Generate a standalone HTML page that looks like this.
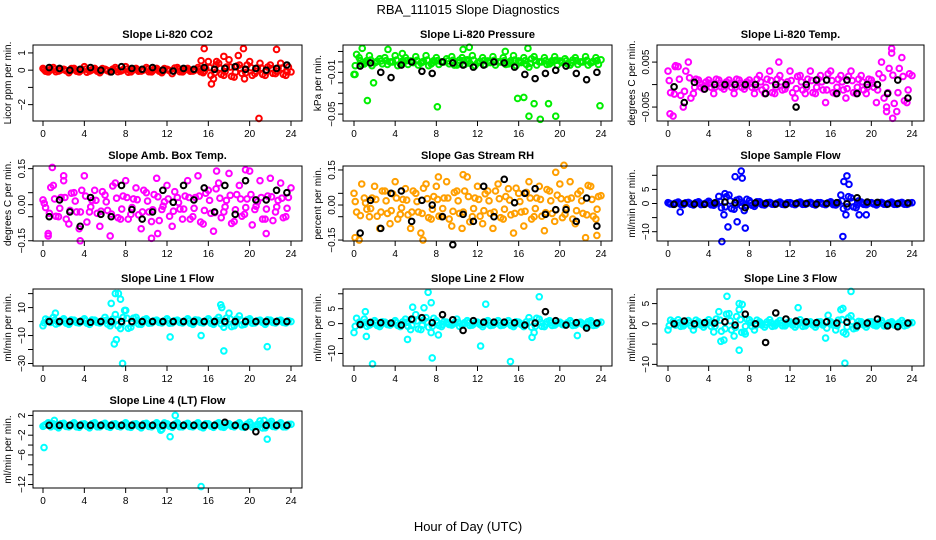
<!DOCTYPE html>
<html><head><meta charset="utf-8"><style>
html,body{margin:0;padding:0;background:#fff;}
svg{display:block;font-family:"Liberation Sans",sans-serif;}
</style></head><body>
<svg id="chart" width="936" height="540" viewBox="0 0 936 540" xmlns="http://www.w3.org/2000/svg">
<text x="468" y="14" text-anchor="middle" font-size="13">RBA_111015  Slope Diagnostics</text>
<text x="468" y="531" text-anchor="middle" font-size="13">Hour of Day (UTC)</text>
</svg>
<script>
const hourTicks = [0,4,8,12,16,20,24];
const co2Vals = [0.1,-0.1,0.15,-0.05,0.05,-0.15,0.1,-0.1,0.2,-0.05,0.1,-0.15,0.05,-0.1,0.15,-0.05,0.2,-0.1,0.1,-0.05,0.15,-0.1,0.1,-0.15,0.05,-0.2,0.15,-0.1,0.1,-0.05,0.15,-0.15,0.5,-0.5,0.4,-0.3,0.6,-0.4,0.3,-0.5,0.5,-0.2,0.4,-0.3,0.3,-0.2,0.4,-0.3,-0.1];
const co2Out = [[15.6,1.25],[19.4,1.25],[22.6,1.2],[20.9,-2.8],[16.3,-0.8],[18.9,0.85],[17.5,0.8],[16.8,0.5],[15.3,0.55]];
const co2Black = [0.15,0.1,0,0.05,0.15,0,-0.1,0.2,0.1,0.05,0.15,0,-0.05,0.1,0.05,0.15,0.05,0.1,0.2,0.05,0.1,0,0.1,0.3];
const presVals = [-0.012,0.004,-0.002,0.006,-0.001,0.003,0.004,0,0.006,-0.002,0.004,0.001,0.005,-0.001,0.006,-0.002,0.004,0,0.003,0.005,-0.003,0.004,0.002,0.006,-0.001,0.004,0.001,0.005,0,0.004,-0.002,0.006,0.001,0.004,-0.005,0.005,0,0.004,-0.002,0.005,0.001,0.003,-0.003,0.004,0,0.005,-0.001,0.004,0.002];
const presOut = [[0.1,-0.012],[1.3,-0.037],[1.9,-0.02],[8.1,-0.043],[15.9,-0.035],[16.5,-0.034],[17,-0.052],[17.5,-0.04],[18.1,-0.055],[18.9,-0.04],[19.6,-0.052],[23.9,-0.042],[0.8,0.013],[11.2,0.014],[10.6,0.012],[16.9,0.013],[14.7,0.01],[4.7,0.008],[3.3,0.012]];
const presBlack = [-0.004,-0.001,-0.01,-0.015,-0.003,0,-0.009,-0.011,0,-0.001,-0.003,-0.005,-0.003,0,-0.001,-0.005,-0.012,-0.016,-0.011,-0.008,-0.004,-0.011,-0.017,-0.01];
const tempVals = [0.003,-0.007,0.004,-0.005,0.005,-0.002,0.001,-0.001,0.001,-0.002,0.001,-0.001,0.001,-0.002,0.001,-0.001,0.001,-0.002,0.002,-0.002,0.003,-0.002,0.002,-0.001,0.003,-0.003,0.002,-0.002,0.003,-0.002,0.002,-0.004,0.003,-0.002,0.002,-0.003,0.003,-0.002,0.002,-0.002,0.001,-0.004,0.005,-0.006,0.007,-0.006,0.006,-0.004,0.002];
const tempOut = [[22,0.008],[22.1,-0.0075],[0.2,-0.0065],[10.9,0.005],[0.7,0.004],[21.5,-0.005]];
const tempBlack = [-0.0005,-0.004,0.0005,-0.001,0,0,0,0,0,-0.002,0,0,-0.005,0,0.001,0.001,-0.002,0.001,-0.002,0,0,-0.002,0.001,-0.003];
const ambVals = [0.02,-0.12,0.08,-0.05,0.1,-0.08,0.05,-0.1,0.12,-0.03,0.06,-0.09,0.04,-0.13,0.09,-0.06,0.1,-0.04,0.07,-0.1,0.05,-0.07,0.11,-0.02,0.08,-0.09,0.03,-0.06,0.1,-0.05,0.12,-0.08,0.06,-0.11,0.09,-0.03,0.13,-0.07,0.08,-0.04,0.14,-0.02,0.1,-0.06,0.11,-0.03,0.09,-0.05,0.07];
const ambOut = [[0.9,0.155],[3.6,-0.15],[0.5,-0.13],[10.5,-0.14],[16.8,0.14],[19.6,0.145],[21.6,-0.12],[11.1,-0.12],[2,0.12]];
const ambBlack = [-0.05,0.02,-0.03,-0.09,0.03,-0.04,-0.05,0.08,-0.02,-0.06,-0.03,0.06,0.01,0.08,0.02,0.07,-0.03,0.08,-0.04,0.1,0.02,0.02,0.06,0.05];
const rhVals = [0.05,-0.15,0.03,-0.05,0.08,-0.1,0.06,-0.08,0.1,-0.04,0.07,-0.1,0.05,-0.12,0.09,-0.06,0.08,-0.05,0.1,-0.09,0.06,-0.1,0.12,-0.05,0.08,-0.08,0.06,-0.1,0.09,-0.06,0.07,-0.12,0.05,-0.09,0.1,-0.05,0.08,-0.11,0.06,-0.07,0.09,-0.04,0.1,-0.08,0.06,-0.14,0.08,-0.06,0.04];
const rhOut = [[20.4,0.17],[6.7,-0.15],[10.6,0.13],[8.2,0.12],[23.6,-0.13],[0.1,-0.14],[19.6,0.14]];
const rhBlack = [-0.12,0.02,-0.1,0.05,0.06,-0.07,0.02,0,-0.05,-0.17,-0.04,-0.07,0.08,-0.05,0.11,0.01,0.05,0.07,-0.04,-0.02,-0.02,-0.07,0.03,-0.09];
const sfVals = [0.3,-0.3,0.5,-0.4,0.4,-0.5,0.6,-0.3,0.8,-0.6,2.5,-4,3,-2,1.5,-2.5,1,-1,0.6,-0.5,0.4,-0.3,0.5,-0.4,0.3,-0.4,0.5,-0.3,0.4,-0.5,0.3,-0.4,0.6,-0.5,3,-4,2,-1.5,0.5,-0.4,0.3,-0.5,0.4,-0.3,0.5,-0.3,0.4,-0.3,0.3];
const sfOut = [[5.3,-13.5],[6.6,9.5],[7.2,11.5],[7.6,-8.7],[5.9,-8.3],[6.8,-6.5],[17.6,9.8],[17.3,7.8],[17.2,-11.7],[17.8,6.8],[1.2,-3],[18.8,-4],[19.5,-4],[5.6,3.5],[7.3,9]];
const sfBlack = [-0.3,0,-0.2,-0.3,0.2,0.5,0.3,-1.5,0.2,0,-0.2,-0.3,0,0,-0.2,0,0.3,-0.1,2,0.5,0.4,-0.2,0,0.2];
const l1Vals = [-3,1,3,-1,2,-2,1,-1,2,-2,1,-1,3,-3,5,-5,8,-4,3,-2,2,-1,1,-1,2,-1,1,-1,2,-2,1,-1,2,-2,3,-4,6,-3,4,-2,2,-1,1,-2,1,-1,1,-1,0];
const l1Out = [[7,20],[7.3,20],[6.6,13],[7.5,16],[6.9,-16],[7.1,-13],[7.7,-30],[12.3,-11],[15.3,-10],[17.3,10],[17.5,-21],[21.7,-18],[17.2,12],[1.2,6],[7.9,8]];
const l1Black = [0,0,0,0,-0.5,0,0,0,0,0,0,0,0,0,0,0,0,0,0,0,0,0,0,0];
const l2Vals = [-3,0.5,1.5,-0.5,1,-1,0.5,-0.5,1,-1,1.5,-2,3,-2,2,-3,1,-1,0.5,-0.5,1.5,-0.5,1,-0.5,0.5,-1,1,-0.5,1,-0.5,1,-1,0.5,-1,2,-3,1.5,-1,1,-0.5,0.5,-0.5,1,-0.5,0.5,-1,1,-0.5,0.5];
const l2Out = [[1.8,-13.5],[7.2,10.5],[7.5,7],[5.7,5.5],[6.8,5.3],[12.8,6.5],[12.3,-7.5],[15.2,-12.7],[18,9],[7.6,-11.5],[1.1,4],[1.2,-4.3],[5.2,-5.3],[17.3,-4.6],[21.7,-4],[8.2,-3.8]];
const l2Black = [-0.3,0.4,0.3,0.2,-0.5,1.5,2,0.3,3,1.3,-2.3,1,0.5,0.5,0.5,0.3,-0.5,0.2,4,1,-0.5,0.3,-1.5,0.2];
const l3Vals = [-1.5,0.5,1,-0.5,0.8,-1.5,0.5,-0.8,1,-2,3,-4,2.5,-3,3.5,-2,1,-1.5,0.5,-0.8,1,-0.5,0.8,-0.5,0.5,-0.8,1,-0.5,0.5,-0.8,0.5,-3.5,0.5,-1.5,3.5,-2.5,2,-1,0.5,-0.8,0.5,-0.5,0.8,-0.5,0.5,-0.5,0.8,-0.3,0.3];
const l3Out = [[5.8,6.8],[7,5],[7.3,4.8],[12.8,4],[18,8],[17.4,-9.7],[7,-6.5],[5.2,-4.3],[17.2,3.8],[7.6,-2.5]];
const l3Black = [0,0.7,0,0.3,0.2,0.5,-0.3,2.4,0,-4.6,2.7,1.2,0.7,0.5,0.3,0.5,0.2,0.4,-0.5,0.2,1.2,-0.5,-0.7,0.2];
const l4Vals = [-0.2,0.5,0.3,-0.5,0.4,-0.3,0.5,-0.4,0.3,-0.5,0.5,-0.3,0.4,-0.4,0.3,-0.3,0.5,-0.4,0.3,-0.5,0.4,-0.3,0.5,-0.8,0.3,-0.4,0.5,-0.3,0.4,-0.3,0.5,-0.5,0.3,-0.4,0.5,-0.4,0.3,-0.3,0.5,-0.4,0.6,-0.3,0.9,-0.5,0.4,-0.3,0.5,-0.3,0.2];
const l4Out = [[0.1,-4.5],[1.1,1],[12.3,-2.3],[12.8,2],[15.3,-12.4],[21.4,1],[21.7,-2.8],[22.1,0.8],[11.4,-1]];
const l4Black = [0,0,0,0,0,0,0,0,0,0,0,0,0,0,0,0,0,0.6,0,-0.3,-1.3,0,0,0];

const cols=[{l:33,r:302,x0:43,x1:291},{l:343,r:612,x0:354,x1:601},{l:657,r:924,x0:668,x1:912}];
const rows=[{t:45,b:121},{t:166,b:241},{t:289,b:366},{t:411,b:488}];
const panels=[
 {name:'co2',title:'Slope Li-820 CO2',yl:'Licor ppm per min.',c:0,r:0,ymin:-2.95,ymax:1.46,ticks:[1,0,-1,-2,-3],labels:{'1':'1','0':'0','-2':'−2'},col:'#ff0000',v:co2Vals,o:co2Out,k:co2Black},
 {name:'pressure',title:'Slope Li-820 Pressure',yl:'kPa per min.',c:1,r:0,ymin:-0.0566,ymax:0.0162,ticks:[0.01,0,-0.01,-0.02,-0.03,-0.04,-0.05],labels:{'-0.01':'−0.01','-0.05':'−0.05'},col:'#00ee00',v:presVals,o:presOut,k:presBlack},
 {name:'temp',title:'Slope Li-820 Temp.',yl:'degrees C per min.',c:2,r:0,ymin:-0.0081,ymax:0.0088,ticks:[0.005,0,-0.005],labels:{'0.005':'0.005','-0.005':'−0.005'},col:'#ff00ff',v:tempVals,o:tempOut,k:tempBlack},
 {name:'amb-box-temp',title:'Slope Amb. Box Temp.',yl:'degrees C per min.',c:0,r:1,ymin:-0.151,ymax:0.161,ticks:[0.15,0.05,0,-0.05,-0.15],labels:{'0.15':'0.15','0':'0.00','-0.15':'−0.15'},col:'#ff00ff',v:ambVals,o:ambOut,k:ambBlack},
 {name:'gas-stream-rh',title:'Slope Gas Stream RH',yl:'percent per min.',c:1,r:1,ymin:-0.154,ymax:0.167,ticks:[0.15,0.05,0,-0.05,-0.15],labels:{'0.15':'0.15','0':'0.00','-0.15':'−0.15'},col:'#ff9f00',v:rhVals,o:rhOut,k:rhBlack},
 {name:'sample-flow',title:'Slope Sample Flow',yl:'ml/min per min.',c:2,r:1,ymin:-13.3,ymax:13.3,ticks:[10,5,0,-5,-10],labels:{'5':'5','0':'0','-10':'−10'},col:'#0000ff',v:sfVals,o:sfOut,k:sfBlack},
 {name:'line1-flow',title:'Slope Line 1 Flow',yl:'ml/min per min.',c:0,r:2,ymin:-31.8,ymax:23.3,ticks:[20,10,0,-10,-20,-30],labels:{'10':'10','-10':'−10','-30':'−30'},col:'#00ffff',v:l1Vals,o:l1Out,k:l1Black},
 {name:'line2-flow',title:'Slope Line 2 Flow',yl:'ml/min per min.',c:1,r:2,ymin:-14.2,ymax:11.6,ticks:[10,5,0,-5,-10],labels:{'5':'5','0':'0','-10':'−10'},col:'#00ffff',v:l2Vals,o:l2Out,k:l2Black},
 {name:'line3-flow',title:'Slope Line 3 Flow',yl:'ml/min per min.',c:2,r:2,ymin:-10.4,ymax:8.6,ticks:[5,0,-5,-10],labels:{'5':'5','0':'0','-10':'−10'},col:'#00ffff',v:l3Vals,o:l3Out,k:l3Black},
 {name:'line4-flow',title:'Slope Line 4 (LT) Flow',yl:'ml/min per min.',c:0,r:3,ymin:-12.7,ymax:2.9,ticks:[2,0,-2,-4,-6,-8,-10,-12],labels:{'2':'2','-2':'−2','-6':'−6','-12':'−12'},col:'#00ffff',v:l4Vals,o:l4Out,k:l4Black}
];
const NS='http://www.w3.org/2000/svg';
const svg=document.getElementById('chart');
function mk(tag,attrs,parent){const e=document.createElementNS(NS,tag);for(const a in attrs)e.setAttribute(a,attrs[a]);(parent||svg).appendChild(e);return e;}
panels.forEach(p=>{
  const C=cols[p.c],R=rows[p.r];
  const g=mk('g',{});
  
  
  const xs=h=>C.x0+(h/24)*(C.x1-C.x0);
  const ys=v=>R.b-(v-p.ymin)/(p.ymax-p.ymin)*(R.b-R.t);
  const t=mk('text',{x:(C.l+C.r)/2,y:R.t-7,'text-anchor':'middle','font-size':'11','font-weight':'bold'},g);
  t.textContent=p.title;
  
  
  const yt=mk('text',{transform:`translate(${C.l-22},${(R.t+R.b)/2}) rotate(-90)`,'text-anchor':'middle','font-size':'10'},g);
  yt.textContent=p.yl;
  
  
  const pts=mk('g',{fill:'none','stroke-width':'2'},g);
  
  
  p.v.forEach((v,i)=>{const c=mk('circle',{cx:xs(i*0.5),cy:ys(v),r:2.8,stroke:p.col},pts);
    
    });
  p.v.forEach((v,i)=>{if(i<48){const c=mk('circle',{cx:xs(i*0.5+0.25),cy:ys(-v*0.6),r:2.8,stroke:p.col},pts);
    
    }});
  p.v.forEach((v,i)=>{if(i<48){const c=mk('circle',{cx:xs(i*0.5+0.12),cy:ys(v*0.3),r:2.8,stroke:p.col},pts);
    
    }});
  p.o.forEach(d=>{const c=mk('circle',{cx:xs(d[0]),cy:ys(d[1]),r:2.8,stroke:p.col},pts);
    
    });
  p.k.forEach((v,i)=>{const c=mk('circle',{cx:xs(0.6+i),cy:ys(v),r:2.8,stroke:'#000'},pts);
    
    });
  const bx=mk('rect',{x:C.l,y:R.t,width:C.r-C.l,height:R.b-R.t,fill:'none',stroke:'#000','stroke-width':'1'},g);
  
  
  const xa=mk('g',{stroke:'#000','stroke-width':'1'},g);
  
  
  hourTicks.forEach(h=>{mk('line',{x1:xs(h),x2:xs(h),y1:R.b,y2:R.b+5},xa);
    const l=mk('text',{x:xs(h),y:R.b+16,'text-anchor':'middle','font-size':'10',stroke:'none'},xa);
    l.textContent=h;
    
    });
  const ya=mk('g',{stroke:'#000','stroke-width':'1'},g);
  
  
  p.ticks.forEach(v=>{if(ys(v)<R.t-0.5||ys(v)>R.b+0.5)return;mk('line',{x1:C.l-5,x2:C.l,y1:ys(v),y2:ys(v)},ya);
    const key=String(v);if(p.labels[key]!==undefined){
      const l=mk('text',{transform:`translate(${C.l-8},${ys(v)}) rotate(-90)`,'text-anchor':'middle','font-size':'10',stroke:'none'},ya);
      l.textContent=p.labels[key];
      
      }});
});
</script>
</body></html>
